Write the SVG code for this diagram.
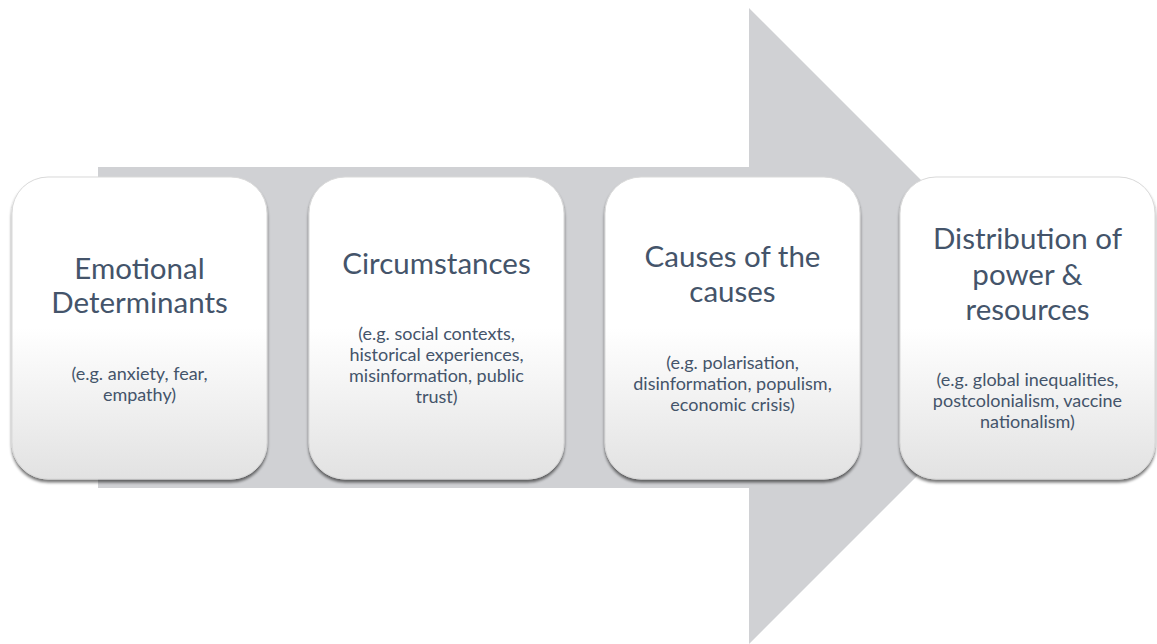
<svg xmlns="http://www.w3.org/2000/svg" width="1157" height="644" viewBox="0 0 1157 644">
  <defs>
    <linearGradient id="cardFill" x1="0" y1="0" x2="0" y2="1">
      <stop offset="0" stop-color="#ffffff"/>
      <stop offset="0.5" stop-color="#ffffff"/>
      <stop offset="1" stop-color="#e2e2e2"/>
    </linearGradient>
    <filter id="shadow" x="-10%" y="-10%" width="120%" height="125%">
      <feGaussianBlur in="SourceAlpha" stdDeviation="1.6"/>
      <feOffset dx="0" dy="2.5" result="b"/>
      <feComponentTransfer><feFuncA type="linear" slope="0.55"/></feComponentTransfer>
      <feMerge><feMergeNode/><feMergeNode in="SourceGraphic"/></feMerge>
    </filter>
    <style>
      .card { fill: url(#cardFill); stroke: #d9d9d9; stroke-width: 1; filter: url(#shadow); }
      .title { font-family: Lato, "Liberation Sans", sans-serif; font-size: 29.5px; fill: #44546a; text-anchor: middle; }
      .sub { font-family: Lato, "Liberation Sans", sans-serif; font-size: 18px; fill: #44546a; text-anchor: middle; }
    </style>
  </defs>
  <rect width="1157" height="644" fill="#ffffff"/>
  <g id="connectors">
    <polygon id="big-arrow" points="98,167 749,167 749,8 1067,326 749,644 749,488 98,488" fill="#d0d1d4"/>
  </g>
  <g id="node1">
    <rect class="card" x="12" y="177" width="255" height="302" rx="36" ry="36"/>
    <text class="title" x="139.5" y="279">Emotional</text>
    <text class="title" x="139.5" y="313">Determinants</text>
    <text class="sub" x="139.5" y="380">(e.g. anxiety, fear,</text>
    <text class="sub" x="139.5" y="401">empathy)</text>
  </g>
  <g id="node2">
    <rect class="card" x="309" y="177" width="255" height="302" rx="36" ry="36"/>
    <text class="title" x="436.5" y="274">Circumstances</text>
    <text class="sub" x="436.5" y="340">(e.g. social contexts,</text>
    <text class="sub" x="436.5" y="361">historical experiences,</text>
    <text class="sub" x="436.5" y="382">misinformation, public</text>
    <text class="sub" x="436.5" y="403">trust)</text>
  </g>
  <g id="node3">
    <rect class="card" x="605" y="177" width="255" height="302" rx="36" ry="36"/>
    <text class="title" x="732.5" y="267">Causes of the</text>
    <text class="title" x="732.5" y="302">causes</text>
    <text class="sub" x="732.5" y="369">(e.g. polarisation,</text>
    <text class="sub" x="732.5" y="390">disinformation, populism,</text>
    <text class="sub" x="732.5" y="411">economic crisis)</text>
  </g>
  <g id="node4">
    <rect class="card" x="900" y="177" width="255" height="302" rx="36" ry="36"/>
    <text class="title" x="1027.5" y="249">Distribution of</text>
    <text class="title" x="1027.5" y="285">power &amp;</text>
    <text class="title" x="1027.5" y="320">resources</text>
    <text class="sub" x="1027.5" y="386">(e.g. global inequalities,</text>
    <text class="sub" x="1027.5" y="407">postcolonialism, vaccine</text>
    <text class="sub" x="1027.5" y="428">nationalism)</text>
  </g>
</svg>
